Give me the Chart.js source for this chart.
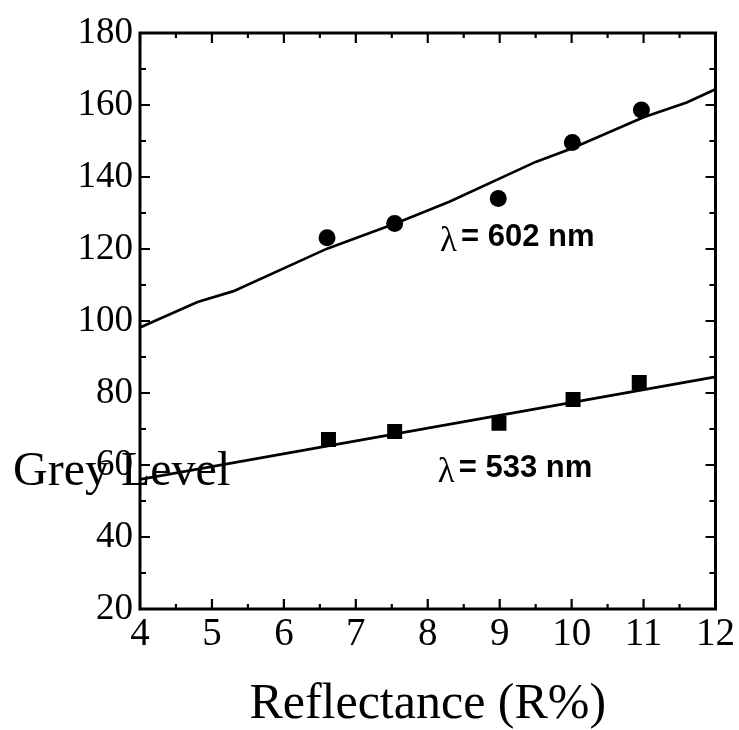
<!DOCTYPE html>
<html lang="en">
<head>
    <meta charset="UTF-8">
    <title>Grey Level vs Reflectance</title>
    <style>
        body {
            margin: 0;
            background-color: #fff;
        }
        #greyChart {
            display: block;
        }
    </style>
</head>
<body>
    <canvas id="greyChart" width="739" height="730"></canvas>

    <script src="https://cdn.jsdelivr.net/npm/chart.js"></script>
    <script>
        // measured points, 602 nm (circles)
        const reflect602 = [6.60, 7.54, 8.98, 10.01, 10.97];
        const grey602 = [123.1, 127.1, 134.0, 149.6, 158.6];

        // measured points, 533 nm (squares)
        const reflect533 = [6.62, 7.54, 8.99, 10.02, 10.94];
        const grey533 = [67.1, 69.3, 71.6, 78.2, 82.9];

        // fitted curves
        const fit602X = [4, 4.8, 5.3, 6.6, 7.55, 8.3, 9.5, 10.0, 11.0, 11.6, 12];
        const fit602Y = [98.2, 105.3, 108.3, 120.1, 127.1, 133.1, 144.2, 147.9, 156.6, 160.7, 164.4];
        const fit533X = [4, 12];
        const fit533Y = [56.0, 84.5];

        // axis ranges / tick steps
        const xRange = [4, 12];
        const yRange = [20, 180];
        const xStep = 1;
        const yStep = 20;

        const serif = "'Liberation Serif', 'Times New Roman', serif";
        const sans = "'Liberation Sans', Arial, sans-serif";

        function toPoints(xs, ys) {
            return xs.map((x, i) => ({ x: x, y: ys[i] }));
        }

        // box round the plot with inward major and minor ticks
        const frameTicks = {
            id: 'frameTicks',
            afterDraw(chart) {
                const { ctx, chartArea: a, scales: { x, y } } = chart;
                ctx.save();
                ctx.strokeStyle = '#000';
                ctx.lineWidth = 3;
                ctx.strokeRect(a.left, a.top, a.right - a.left, a.bottom - a.top);

                ctx.lineWidth = 2.2;
                ctx.beginPath();
                const xt = x.ticks.map(t => t.value);
                xt.forEach((v, i) => {
                    const px = x.getPixelForValue(v);
                    ctx.moveTo(px, a.bottom); ctx.lineTo(px, a.bottom - 10);
                    ctx.moveTo(px, a.top); ctx.lineTo(px, a.top + 10);
                    if (i < xt.length - 1) {
                        const mx = x.getPixelForValue((v + xt[i + 1]) / 2);
                        ctx.moveTo(mx, a.bottom); ctx.lineTo(mx, a.bottom - 5);
                        ctx.moveTo(mx, a.top); ctx.lineTo(mx, a.top + 5);
                    }
                });
                const yt = y.ticks.map(t => t.value);
                yt.forEach((v, i) => {
                    const py = y.getPixelForValue(v);
                    ctx.moveTo(a.left, py); ctx.lineTo(a.left + 10, py);
                    ctx.moveTo(a.right, py); ctx.lineTo(a.right - 10, py);
                    if (i < yt.length - 1) {
                        const my = y.getPixelForValue((v + yt[i + 1]) / 2);
                        ctx.moveTo(a.left, my); ctx.lineTo(a.left + 6, my);
                        ctx.moveTo(a.right, my); ctx.lineTo(a.right - 6, my);
                    }
                });
                ctx.stroke();
                ctx.restore();
            }
        };

        // wavelength labels and the horizontal y title
        const labels = {
            id: 'labels',
            afterDraw(chart) {
                const { ctx, scales: { x, y } } = chart;
                ctx.save();
                ctx.fillStyle = '#000';
                ctx.textBaseline = 'alphabetic';

                const marks = [
                    { text: '= 602 nm', x: 8.17, y: 120.8 },
                    { text: '= 533 nm', x: 8.14, y: 56.7 }
                ];
                marks.forEach(m => {
                    const px = x.getPixelForValue(m.x);
                    const py = y.getPixelForValue(m.y);
                    ctx.font = '35px ' + serif;
                    ctx.fillText('\u03bb', px, py + 5);
                    ctx.font = 'bold 31px ' + sans;
                    ctx.fillText(m.text, px + 21, py);
                });

                ctx.font = '48px ' + serif;
                ctx.fillText('Grey Level', 13, 485);
                ctx.restore();
            }
        };

        new Chart(document.getElementById('greyChart'), {
            type: 'scatter',
            data: {
                datasets: [
                    {
                        label: '602 nm',
                        data: toPoints(reflect602, grey602),
                        pointStyle: 'circle',
                        pointRadius: 8.5,
                        backgroundColor: '#000',
                        borderWidth: 0
                    },
                    {
                        label: '533 nm',
                        data: toPoints(reflect533, grey533),
                        pointStyle: 'rect',
                        pointRadius: 10.6,
                        backgroundColor: '#000',
                        borderWidth: 0
                    },
                    {
                        label: 'fit 602',
                        data: toPoints(fit602X, fit602Y),
                        showLine: true,
                        pointRadius: 0,
                        borderColor: '#000',
                        borderWidth: 2.7,
                        tension: 0
                    },
                    {
                        label: 'fit 533',
                        data: toPoints(fit533X, fit533Y),
                        showLine: true,
                        pointRadius: 0,
                        borderColor: '#000',
                        borderWidth: 2.7,
                        tension: 0
                    }
                ]
            },
            options: {
                responsive: false,
                animation: false,
                devicePixelRatio: 1,
                layout: {
                    padding: { top: 33, right: 23, left: 0, bottom: 0 }
                },
                plugins: {
                    legend: { display: false },
                    tooltip: { enabled: false }
                },
                scales: {
                    x: {
                        type: 'linear',
                        min: xRange[0],
                        max: xRange[1],
                        afterFit(scale) { scale.height = 121; },
                        grid: { display: false, drawTicks: false },
                        border: { display: false },
                        ticks: {
                            stepSize: xStep,
                            padding: 4,
                            color: '#000',
                            maxRotation: 0,
                            font: { family: serif, size: 39, lineHeight: 1.1 }
                        },
                        title: {
                            display: true,
                            text: 'Reflectance (R%)',
                            color: '#000',
                            padding: { top: 0, bottom: 0 },
                            font: { family: serif, size: 50, lineHeight: 1 }
                        }
                    },
                    y: {
                        type: 'linear',
                        min: yRange[0],
                        max: yRange[1],
                        afterFit(scale) { scale.width = 140; },
                        grid: { display: false, drawTicks: false },
                        border: { display: false },
                        ticks: {
                            stepSize: yStep,
                            padding: 7,
                            color: '#000',
                            font: { family: serif, size: 37 }
                        }
                    }
                }
            },
            plugins: [frameTicks, labels]
        });
    </script>
</body>
</html>
